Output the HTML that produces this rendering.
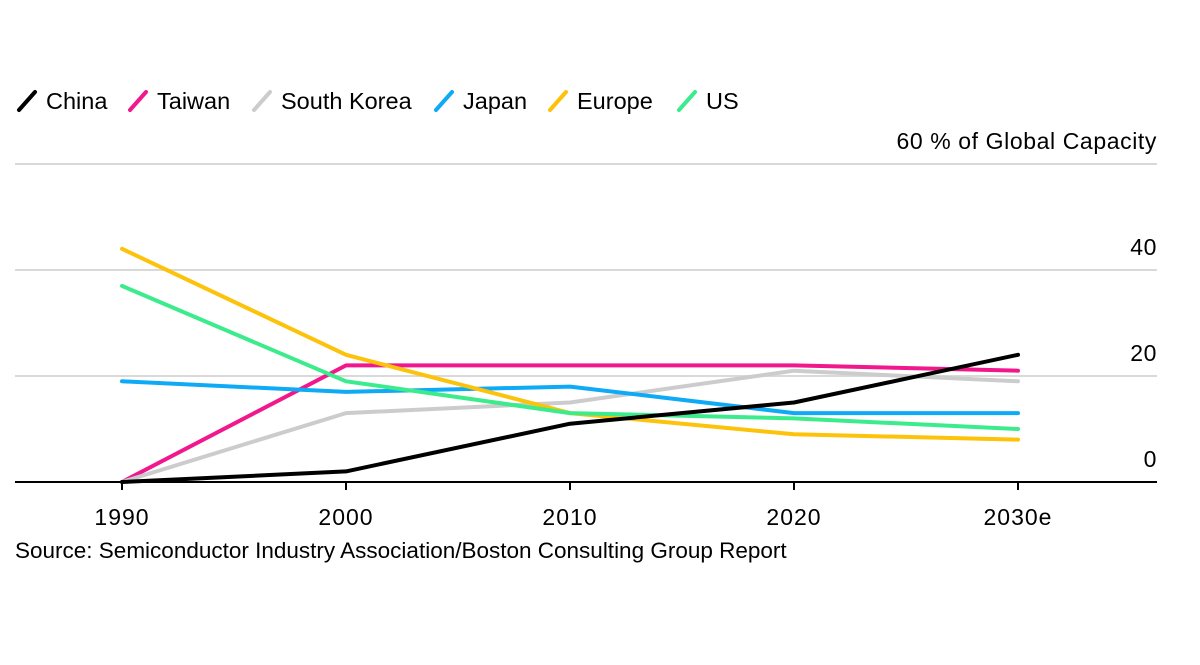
<!DOCTYPE html>
<html><head><meta charset="utf-8">
<style>
body{margin:0;background:#fff;font-family:"Liberation Sans",Arial,sans-serif;}
svg text{font-family:"Liberation Sans",Arial,sans-serif;fill:#000;}
</style></head>
<body>
<svg id="chart" width="1200" height="660" viewBox="0 0 1200 660" xmlns="http://www.w3.org/2000/svg">
<g id="legend"></g>
<g id="grid"></g>
<g id="lines"></g>
<g id="xaxis"></g>
<text x="15" y="558" font-size="22.5">Source: Semiconductor Industry Association/Boston Consulting Group Report</text>
</svg>
<script>
const categories = ["1990","2000","2010","2020","2030e"];
const yTicks = [0,20,40,60];
const seriesNames = ["China","Taiwan","South Korea","Japan","Europe","US"];
const seriesColors = ["#000000","#f0188c","#cccccc","#0eaaf5","#fdc20a","#3ceb8c"];
const china = [0,2,11,15,24];
const taiwan = [0,22,22,22,21];
const southKorea = [0,13,15,21,19];
const japan = [19,17,18,13,13];
const europe = [44,24,13,9,8];
const us = [37,19,13,12,10];
const seriesValues = [china,taiwan,southKorea,japan,europe,us];

const NS="http://www.w3.org/2000/svg";
const x = i => 122 + i*224;
const y = v => 482 - v*5.3;
function mk(tag, attrs, parent){const e=document.createElementNS(NS,tag);for(const k in attrs)e.setAttribute(k,attrs[k]);parent.appendChild(e);return e;}

const grid=document.getElementById('grid');
yTicks.forEach(t=>{
  if(t>0){
    const l=mk('line',{x1:15,x2:1157,y1:y(t),y2:y(t),stroke:'#d9d9d9','stroke-width':2},grid);
    
    
  }
  const tx=mk('text',{x:1157,y:y(t)-15,'font-size':23,'letter-spacing':0.6,'text-anchor':'end'},grid);
  tx.textContent = t===60 ? "60 % of Global Capacity" : String(t);
  
  
});

const lines=document.getElementById('lines');
seriesValues.forEach((vals,s)=>{
  const p=mk('polyline',{points:vals.map((v,i)=>x(i)+','+y(v)).join(' '),fill:'none',stroke:seriesColors[s],'stroke-width':4,'stroke-linejoin':'round','stroke-linecap':'round'},lines);
  
  
});
lines.appendChild(lines.firstChild);

const xa=document.getElementById('xaxis');
const base=mk('line',{x1:15,x2:1157,y1:482,y2:482,stroke:'#000','stroke-width':2},xa);


categories.forEach((c,i)=>{
  const tk=mk('line',{x1:x(i),x2:x(i),y1:482,y2:490,stroke:'#000','stroke-width':2},xa);
  
  
  const t=mk('text',{x:x(i),y:525,'font-size':23,'letter-spacing':1,'text-anchor':'middle'},xa);
  t.textContent=c;
  
  
});

const lg=document.getElementById('legend');
const lx=[17,128,252,434,548,677];
seriesNames.forEach((n,s)=>{
  const g=mk('g',{},lg);
  
  
  mk('line',{x1:lx[s]+2,y1:110,x2:lx[s]+18,y2:92,stroke:seriesColors[s],'stroke-width':4,'stroke-linecap':'round'},g);
  const t=mk('text',{x:lx[s]+29,y:109,'font-size':23.5},g);
  t.textContent=n;
});
</script>
</body></html>
